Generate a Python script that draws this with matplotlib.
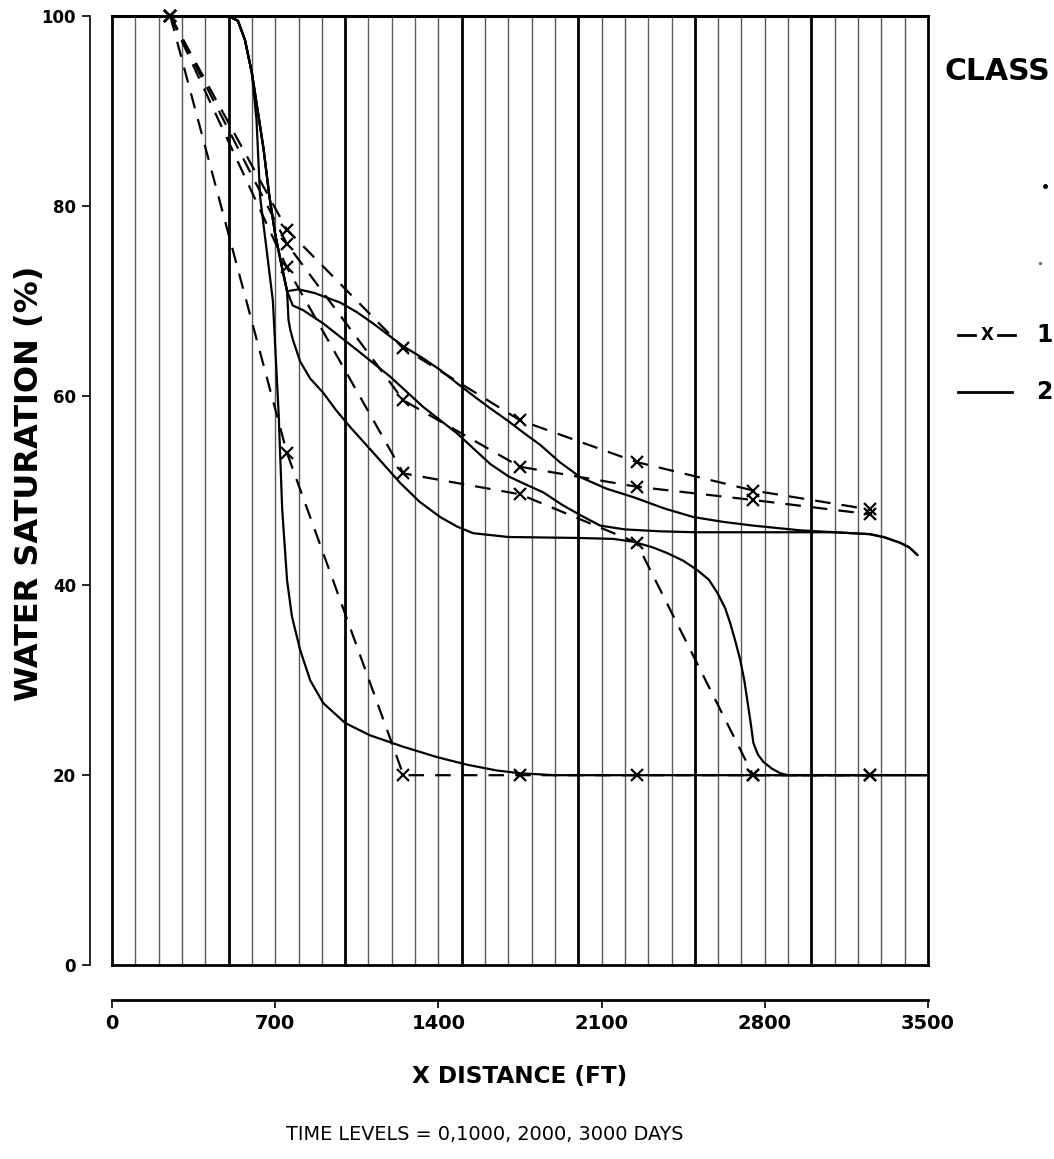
import matplotlib
matplotlib.use("Agg")
import matplotlib.pyplot as plt
from matplotlib.lines import Line2D

# ---- class 1: coarse grid, block centres (ft) ----
coarse_x = [250, 750, 1250, 1750, 2250, 2750, 3250]
coarse_t1 = [100, 54, 20, 20, 20, 20, 20]
coarse_t2 = [100, 73.5, 51.8, 49.6, 44.5, 20, 20]
coarse_t3 = [100, 76, 59.5, 52.5, 50.4, 49, 47.5]
coarse_t4 = [100, 77.5, 65, 57.4, 53, 50, 48]

# ---- class 2: fine grid profiles ----
fine_t1_x = [0, 500, 540, 570, 600, 620, 635, 660, 690, 715, 730, 751, 772, 807, 850,
             906, 1000, 1107, 1249, 1395, 1524, 1650, 1751, 1900, 3500]
fine_t1_y = [100, 100, 99.5, 97.5, 94, 89, 81, 76, 70, 58, 48, 40.5, 36.7, 33.2, 30,
             27.6, 25.5, 24.2, 23, 21.9, 21.1, 20.5, 20.2, 20, 20]

fine_head_x = [0, 500, 540, 570, 600, 625, 650, 675, 700, 725, 751]
fine_head_y = [100, 100, 99.5, 97.5, 94, 90, 86, 81, 77, 74, 71]

fine_t2_x = fine_head_x + [757, 764, 777, 807, 850, 906, 960, 1021, 1120, 1236, 1320,
                           1408, 1480, 1549, 1700, 2000, 2150, 2236, 2320, 2382, 2450,
                           2511, 2560, 2597, 2630, 2652, 2675, 2695, 2712, 2725, 2740,
                           2751, 2770, 2794, 2830, 2867, 2900, 3500]
fine_t2_y = fine_head_y + [68, 67, 65.8, 63.6, 61.8, 60.3, 58.5, 56.7, 54, 50.8, 48.8,
                           47.2, 46.2, 45.5, 45.1, 45, 44.9, 44.6, 44, 43.4, 42.6,
                           41.6, 40.6, 39.2, 37.6, 36, 34, 32.1, 30, 27.9, 25.4,
                           23.4, 22.2, 21.4, 20.7, 20.2, 20, 20]

fine_tail_x = [3100, 3250, 3309, 3380, 3420, 3455]
fine_tail_y = [45.6, 45.4, 45.1, 44.5, 44, 43.2]

fine_t3_x = fine_head_x + [775, 820, 906, 1051, 1193, 1335, 1481, 1622, 1700, 1760,
                           1850, 1930, 2009, 2094, 2200, 2350, 2500, 2750, 3000] + fine_tail_x
fine_t3_y = fine_head_y + [69.5, 69, 67.6, 64.8, 62, 58.8, 56, 52.8, 51.5, 50.8,
                           49.8, 48.5, 47.4, 46.3, 45.9, 45.7, 45.6, 45.6, 45.6] + fine_tail_y

fine_t4_x = fine_head_x + [800, 870, 979, 1050, 1120, 1249, 1330, 1408, 1480, 1549,
                           1620, 1695, 1770, 1837, 1920, 2009, 2120, 2236, 2370, 2494,
                           2620, 2750, 2953] + fine_tail_x
fine_t4_y = fine_head_y + [71.2, 70.8, 69.8, 68.8, 67.6, 65.2, 64, 62.7, 61.3, 60,
                           58.7, 57.4, 56, 54.8, 53, 51.4, 50.2, 49.3, 48.1, 47.2,
                           46.7, 46.3, 45.8] + fine_tail_y

x_ticks = [0, 700, 1400, 2100, 2800, 3500]
y_ticks = [0, 20, 40, 60, 80, 100]

W, H = 1054, 1159
narrow = ["DejaVu Sans Condensed", "Liberation Sans Narrow", "DejaVu Sans"]
wide = ["DejaVu Sans"]

fig = plt.figure(figsize=(W / 100, H / 100), dpi=100)
ax = fig.add_axes([112 / W, 1 - 965 / H, (928 - 112) / W, (965 - 16) / H])
ax.set_xlim(0, 3500)
ax.set_ylim(0, 100)

# chart paper: heavy lines every 500 ft, light lines every 100 ft
for xv in range(0, 3501, 100):
    if xv % 500 == 0:
        ax.axvline(xv, color="black", lw=2.0, clip_on=False, zorder=1)
    else:
        ax.axvline(xv, color="#5a5a5a", lw=1.0, zorder=1)
ax.axhline(100, color="black", lw=2.2, clip_on=False, zorder=1)
ax.axhline(0, color="black", lw=2.0, clip_on=False, zorder=1)

# fine grid: solid lines
for xs, ys in [(fine_t1_x, fine_t1_y), (fine_t2_x, fine_t2_y),
               (fine_t3_x, fine_t3_y), (fine_t4_x, fine_t4_y)]:
    ax.plot(xs, ys, color="black", lw=1.6, solid_capstyle="round", zorder=3)

# coarse grid: dashed lines with x markers
for ys in [coarse_t1, coarse_t2, coarse_t3, coarse_t4]:
    ax.plot(coarse_x, ys, color="black", lw=1.6, dashes=(7, 5), marker="x",
            ms=9, mew=1.6, zorder=4, clip_on=False)

# axes styling
for s in ["top", "right"]:
    ax.spines[s].set_visible(False)
ax.spines["left"].set_position(("outward", 16))
ax.spines["bottom"].set_position(("outward", 25))
ax.spines["left"].set_linewidth(1.2)
ax.spines["bottom"].set_linewidth(2.0)
ax.spines["left"].set_bounds(0, 100)
ax.spines["bottom"].set_bounds(0, 3500)
ax.set_xticks(x_ticks)
ax.set_yticks(y_ticks)
ax.tick_params(axis="both", direction="out", length=6, width=1.2, pad=4)
for lab in ax.get_xticklabels():
    lab.set_fontfamily(narrow)
    lab.set_fontweight("bold")
    lab.set_fontsize(14)
for lab in ax.get_yticklabels():
    lab.set_fontfamily(narrow)
    lab.set_fontweight("bold")
    lab.set_fontsize(12)


def fit(txt, span_px, vertical=False, cap=40):
    """Scale a text's font size so its long side spans span_px pixels."""
    r = fig.canvas.get_renderer()
    bb = txt.get_window_extent(renderer=r)
    cur = bb.height if vertical else bb.width
    txt.set_fontsize(min(cap, txt.get_fontsize() * span_px / cur))


t_y = fig.text(30 / W, 1 - 483 / H, "WATER SATURATION (%)", rotation=90, ha="center",
               va="center", family=wide, weight="bold", fontsize=20)
fit(t_y, 500, vertical=True, cap=23)
t_x = fig.text(520 / W, 1 - 1077 / H, "X DISTANCE (FT)", ha="center", va="center",
               family=narrow, weight="bold", fontsize=20)
fit(t_x, 215)
t_t = fig.text(485 / W, 1 - 1134 / H, "TIME LEVELS = 0,1000, 2000, 3000 DAYS", ha="center",
               va="center", family=narrow, fontsize=12)
fit(t_t, 395)

# key on the right
t_c = fig.text(944 / W, 1 - 72 / H, "CLASS", ha="left", va="center", family=narrow,
               weight="bold", fontsize=28)
fit(t_c, 106)
fig.add_artist(Line2D([1045 / W], [1 - 186 / H], marker="o", ms=2.5, color="black",
                      transform=fig.transFigure))
fig.add_artist(Line2D([1040 / W], [1 - 263 / H], marker="o", ms=1.5, color="#777",
                      transform=fig.transFigure))
fig.add_artist(Line2D([958 / W, 975 / W], [1 - 335 / H] * 2, color="black", lw=2,
                      transform=fig.transFigure))
fig.add_artist(Line2D([998 / W, 1015 / W], [1 - 335 / H] * 2, color="black", lw=2,
                      transform=fig.transFigure))
fig.text(987 / W, 1 - 335 / H, "X", ha="center", va="center", family=narrow,
         weight="bold", fontsize=12)
fig.text(1036 / W, 1 - 335 / H, "1", ha="left", va="center", family=narrow,
         weight="bold", fontsize=17)
fig.add_artist(Line2D([958 / W, 1012 / W], [1 - 392 / H] * 2, color="black", lw=2,
                      transform=fig.transFigure))
fig.text(1036 / W, 1 - 392 / H, "2", ha="left", va="center", family=narrow,
         weight="bold", fontsize=17)

fig.savefig("out.png", dpi=100)
